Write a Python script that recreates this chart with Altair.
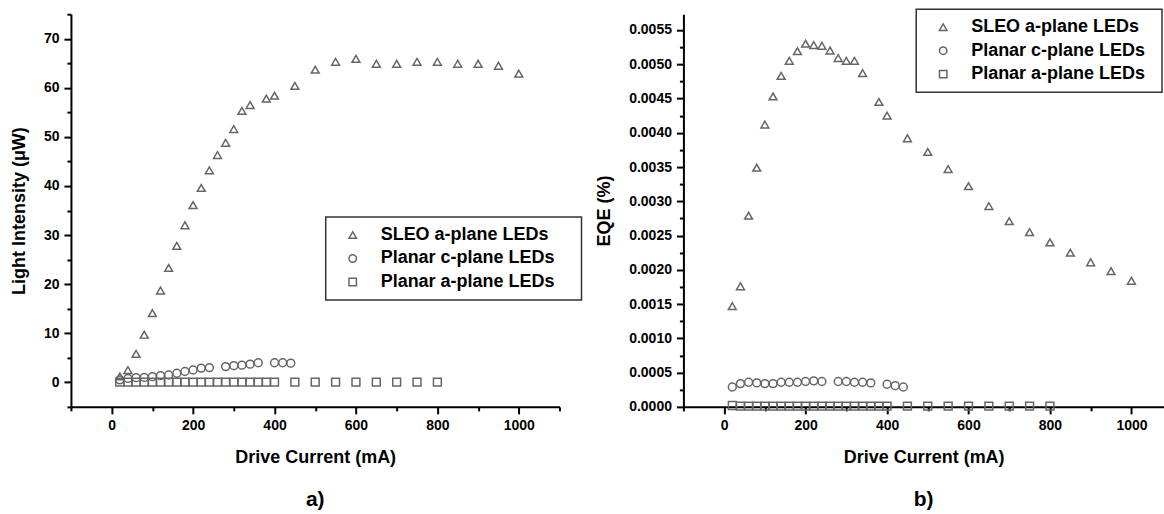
import altair as alt
import pandas as pd

SERIES = ["SLEO a-plane LEDs", "Planar c-plane LEDs", "Planar a-plane LEDs"]
SHAPES = ["triangle-up", "circle", "square"]

# ---- panel a) Light intensity (uW) ----
li_sleo_x = [20, 40, 60, 80, 100, 120, 140, 160, 180, 200, 220, 240, 260, 280, 300, 320, 340,
             380, 400, 450, 500, 550, 600, 650, 700, 750, 800, 850, 900, 950, 1000]
li_sleo_y = [1.2, 2.5, 5.8, 9.7, 14.1, 18.7, 23.3, 27.8, 32.0, 36.1, 39.6, 43.2, 46.3, 48.8, 51.6,
             55.3, 56.5, 57.8, 58.4, 60.4, 63.7, 65.3, 65.9, 64.9, 64.9, 65.3, 65.3, 64.9, 64.9,
             64.5, 62.9]
li_cpl_x = [20, 40, 60, 80, 100, 120, 140, 160, 180, 200, 220, 240, 280, 300, 320, 340, 360,
            400, 420, 440]
li_cpl_y = [0.5, 0.8, 0.95, 1.0, 1.15, 1.36, 1.5, 1.84, 2.2, 2.5, 2.9, 3.0, 3.2, 3.4, 3.5, 3.7,
            4.0, 4.0, 4.0, 3.9]
li_apl_x = [20, 40, 60, 80, 100, 120, 140, 160, 180, 200, 220, 240, 260, 280, 300, 320, 340, 360,
            380, 400, 450, 500, 550, 600, 650, 700, 750, 800]
li_apl_y = [0.05, 0.05, 0.05, 0.05, 0.05, 0.05, 0.05, 0.05, 0.05, 0.05, 0.05, 0.05, 0.05, 0.05,
            0.05, 0.05, 0.05, 0.05, 0.05, 0.05, 0.05, 0.05, 0.05, 0.05, 0.05, 0.05, 0.05, 0.05]

# ---- panel b) EQE (%) ----
eqe_sleo_x = li_sleo_x
eqe_sleo_y = [0.00147, 0.00176, 0.00279, 0.00349, 0.00412, 0.00453, 0.00483, 0.00505, 0.00519,
              0.00530, 0.00528, 0.00527, 0.00520, 0.00509, 0.00505, 0.00505, 0.00487, 0.00445,
              0.00425, 0.00392, 0.00372, 0.00347, 0.00322, 0.00293, 0.00271, 0.00255, 0.00240,
              0.00225, 0.00211, 0.00198, 0.00184]
eqe_cpl_x = li_cpl_x
eqe_cpl_y = [0.00029, 0.00034, 0.00036, 0.00035, 0.00034, 0.00034, 0.00036, 0.00036, 0.00036,
             0.00037, 0.00038, 0.00037, 0.00037, 0.00037, 0.00036, 0.00036, 0.00035, 0.00033,
             0.00031, 0.00029]
eqe_apl_x = li_apl_x
eqe_apl_y = [0.00002, 0.00001, 0.00001, 0.00001, 0.00001, 0.00001, 0.00001, 0.00001, 0.00001,
             0.00001, 0.00001, 0.00001, 0.00001, 0.00001, 0.00001, 0.00001, 0.00001, 0.00001,
             0.00001, 0.00001, 0.00001, 0.00001, 0.00001, 0.00001, 0.00001, 0.00001, 0.00001,
             0.00001]

x_ticks = [-100, 0, 100, 200, 300, 400, 500, 600, 700, 800, 900, 1000, 1100]
li_ticks = [-5, 0, 5, 10, 15, 20, 25, 30, 35, 40, 45, 50, 55, 60, 65, 70, 75]
eqe_ticks = [0.0, 0.00025, 0.0005, 0.00075, 0.001, 0.00125, 0.0015, 0.00175, 0.002, 0.00225,
             0.0025, 0.00275, 0.003, 0.00325, 0.0035, 0.00375, 0.004, 0.00425, 0.0045, 0.00475,
             0.005, 0.00525, 0.0055]


def frame(groups):
    rows = []
    for name, xs, ys in groups:
        for a, b in zip(xs, ys):
            rows.append({"x": a, "y": b, "series": name})
    return pd.DataFrame(rows)


df_li = frame([(SERIES[0], li_sleo_x, li_sleo_y), (SERIES[1], li_cpl_x, li_cpl_y),
               (SERIES[2], li_apl_x, li_apl_y)])
df_eqe = frame([(SERIES[0], eqe_sleo_x, eqe_sleo_y), (SERIES[1], eqe_cpl_x, eqe_cpl_y),
                (SERIES[2], eqe_apl_x, eqe_apl_y)])

FONT = "Liberation Sans"
GREY = "#666666"


def axis_common(**kw):
    return alt.Axis(
        grid=False, domainColor="black", domainWidth=2, tickColor="black", tickWidth=2,
        labelFont=FONT, labelFontSize=14, labelFontWeight="bold", labelColor="black",
        titleFont=FONT, titleFontSize=18, titleFontWeight="bold", titleColor="black",
        labelOverlap=False, labelFlush=False, labelPadding=5, **kw)


def panel(df, ytitle, ydomain, yticks, ylabel_test, yfmt, xmax, width, lx, ly, extra, title):
    x_axis = axis_common(
        title="Drive Current (mA)", values=x_ticks, format="d",
        labelExpr="datum.value % 200 == 0 ? datum.label : ''",
        tickSize={"condition": {"test": "datum.value % 200 == 0", "value": 7}, "value": 4},
        titlePadding=16)
    y_axis = axis_common(
        title=ytitle, values=yticks, format=yfmt,
        labelExpr="(" + ylabel_test + ") ? datum.label : ''",
        tickSize={"condition": {"test": ylabel_test, "value": 7}, "value": 4},
        titlePadding=15)
    legend = alt.Legend(
        title=".", titleOrient="right", titleColor="rgba(0,0,0,0)", titleFontSize=10,
        titlePadding=extra,
        orient="none", legendX=lx, legendY=ly, padding=9, symbolOffset=9,
        labelOffset=19, rowPadding=5.5, labelFont=FONT, labelFontSize=18,
        labelFontWeight="bold", labelColor="black", labelLimit=500, strokeColor="#333333",
        symbolStrokeColor=GREY, symbolStrokeWidth=1.5, symbolFillColor="white",
        symbolSize=55)
    return alt.Chart(df).mark_point(filled=False, strokeWidth=1.5, color=GREY, opacity=1,
                                    size=62).encode(
        x=alt.X("x:Q", scale=alt.Scale(domain=[-100, xmax], nice=False, zero=False), axis=x_axis),
        y=alt.Y("y:Q", scale=alt.Scale(domain=ydomain, nice=False, zero=False), axis=y_axis),
        shape=alt.Shape("series:N", scale=alt.Scale(domain=SERIES, range=SHAPES), legend=legend),
    ).properties(
        width=width, height=393,
        title=alt.TitleParams(title, orient="bottom", anchor="middle", font=FONT, fontSize=21,
                              fontWeight="bold", color="black", offset=22))


left = panel(df_li, "Light Intensity (\u03bcW)", [-5, 75], li_ticks, "datum.value % 10 == 0",
             "d", 1100, 489, 255, 203, 15, "a)")
right = panel(df_eqe, "EQE (%)", [0, 0.00573], eqe_ticks,
              "round(datum.value * 100000) % 50 == 0", ".4f", 1080, 481, 233, -5, 5, "b)")

chart = alt.hconcat(left, right, spacing=124, bounds="flush").resolve_scale(
    shape="independent", x="independent", y="independent"
).resolve_legend(shape="independent").configure_view(stroke=None).configure_legend(
    strokeWidth=1.5
).properties(padding={"left": 10, "top": 7, "right": 0, "bottom": 0}, background="white")

chart.save("out.html", embed_options={"renderer": "svg", "actions": False})
